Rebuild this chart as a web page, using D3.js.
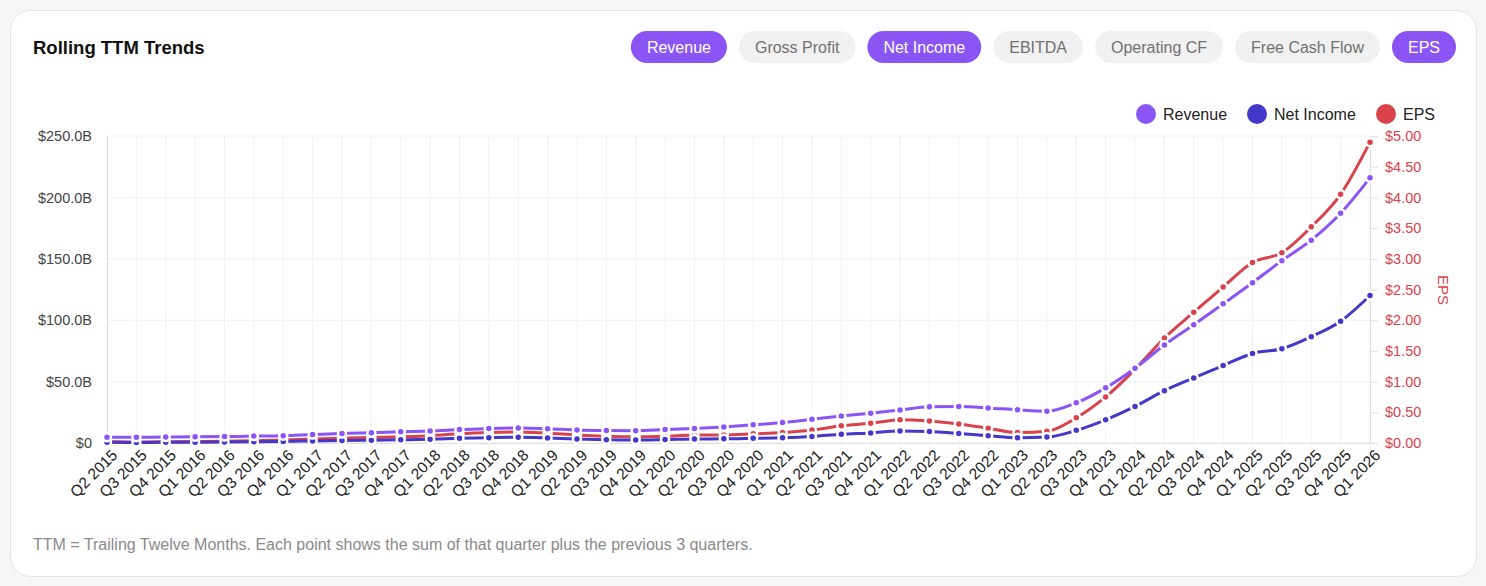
<!DOCTYPE html>
<html><head><meta charset="utf-8">
<script src="https://cdn.jsdelivr.net/npm/d3@7"></script>
<style>
html,body{margin:0;padding:0;background:#f6f6f6;}
svg{display:block;font-family:"Liberation Sans",Arial,Helvetica,sans-serif;}
</style></head>
<body><svg id="c" width="1486" height="586"></svg>
<script>
const quarters = ["Q2 2015","Q3 2015","Q4 2015","Q1 2016","Q2 2016","Q3 2016","Q4 2016","Q1 2017","Q2 2017","Q3 2017","Q4 2017","Q1 2018","Q2 2018","Q3 2018","Q4 2018","Q1 2019","Q2 2019","Q3 2019","Q4 2019","Q1 2020","Q2 2020","Q3 2020","Q4 2020","Q1 2021","Q2 2021","Q3 2021","Q4 2021","Q1 2022","Q2 2022","Q3 2022","Q4 2022","Q1 2023","Q2 2023","Q3 2023","Q4 2023","Q1 2024","Q2 2024","Q3 2024","Q4 2024","Q1 2025","Q2 2025","Q3 2025","Q4 2025","Q1 2026"];
// $B
const revenue = [4.6,4.7,4.8,5.0,5.2,5.6,6.0,6.9,7.7,8.4,9.1,9.7,10.9,11.9,12.3,11.7,10.5,10.1,10.0,10.9,11.8,13.1,14.8,16.7,19.3,21.9,24.3,26.9,29.5,29.7,28.6,27.0,25.9,32.7,44.9,60.9,79.8,96.3,113.3,130.5,148.5,165.2,187.1,215.9];
const netIncome = [0.63,0.45,0.56,0.61,0.74,0.93,1.28,1.67,1.96,2.29,2.58,3.05,3.78,4.30,4.69,4.14,3.29,2.74,2.41,2.80,3.32,3.39,3.83,4.33,5.33,7.08,8.21,9.75,9.45,7.74,5.96,4.37,4.79,10.3,18.9,29.8,42.6,53.0,63.1,72.9,76.8,86.6,99.2,120.1];
// $ per share
const eps = [0.025,0.018,0.022,0.024,0.029,0.036,0.05,0.065,0.077,0.09,0.10,0.12,0.15,0.17,0.18,0.16,0.13,0.11,0.10,0.11,0.13,0.13,0.15,0.17,0.21,0.28,0.32,0.38,0.36,0.31,0.24,0.17,0.19,0.41,0.75,1.20,1.71,2.13,2.54,2.94,3.10,3.52,4.05,4.90];
const leftTicks = [0,50,100,150,200,250];
const rightTicks = [0,0.5,1,1.5,2,2.5,3,3.5,4,4.5,5];
const buttons = ["Revenue","Gross Profit","Net Income","EBITDA","Operating CF","Free Cash Flow","EPS"];
const activeButtons = ["Revenue","Net Income","EPS"];
const legendItems = ["Revenue","Net Income","EPS"];

const colors = {"Revenue":"#8b55f6","Net Income":"#4338ca","EPS":"#d9424b"};

const svg = d3.select("#c");
// card
svg.append("rect").attr("x",10.5).attr("y",10.5).attr("width",1466).attr("height",566)
  .attr("rx",20).attr("fill","#fff").attr("stroke","#e4e4e4");
svg.append("text").attr("x",33).attr("y",54).attr("font-size",18.5).attr("font-weight","bold")
  .attr("fill","#111").text("Rolling TTM Trends");

// buttons
const btnG = svg.append("g");
const measure = svg.append("text").attr("font-size",16).attr("visibility","hidden");
const btnData = buttons.map(b=>{measure.text(b); return {b, w: measure.node().getComputedTextLength()+32};});
measure.remove();
const totalW = d3.sum(btnData,d=>d.w) + 12*(btnData.length-1);
let cx = 1456 - totalW;
btnData.forEach(d=>{
  const act = activeButtons.includes(d.b);
  btnG.append("rect").attr("x",cx).attr("y",31).attr("width",d.w).attr("height",32).attr("rx",16)
    .attr("fill",act?"#8b55f6":"#f1f1f1");
  btnG.append("text").attr("x",cx+d.w/2).attr("y",52.5).attr("text-anchor","middle").attr("font-size",16)
    .attr("fill",act?"#fff":"#707070").text(d.b);
  cx += d.w + 12;
});

// scales
const x = d3.scalePoint().domain(quarters).range([107,1370]);
const yL = d3.scaleLinear().domain([0,250]).range([443,136]);
const yR = d3.scaleLinear().domain([0,5]).range([443,136]);

// grid
const grid = svg.append("g");
grid.selectAll(".vg").data(quarters).join("line").attr("x1",d=>x(d)).attr("x2",d=>x(d))
  .attr("y1",136).attr("y2",443).attr("stroke","#f1f1f1");
grid.selectAll(".hg").data(leftTicks).join("line").attr("x1",107).attr("x2",1370)
  .attr("y1",d=>yL(d)).attr("y2",d=>yL(d)).attr("stroke","#f1f1f1");

// axes
const fmtL = d=> d===0 ? "$0" : "$"+d.toFixed(1)+"B";
const axL = svg.append("g").attr("transform","translate(107,0)")
  .call(d3.axisLeft(yL).tickValues(leftTicks).tickFormat(fmtL).tickSize(0).tickPadding(15));
axL.select(".domain").attr("stroke","#dedede");
axL.selectAll("text").attr("font-size",14.5).attr("fill","#444").attr("font-family","Liberation Sans, Arial");

const axR = svg.append("g").attr("transform","translate(1370,0)")
  .call(d3.axisRight(yR).tickValues(rightTicks).tickFormat(d=>"$"+d.toFixed(2)).tickSize(8).tickPadding(7));
axR.select(".domain").attr("stroke","#dedede");
axR.selectAll(".tick line").attr("stroke","#dedede");
axR.selectAll("text").attr("font-size",14.5).attr("fill","#d9424b").attr("font-family","Liberation Sans, Arial");

svg.append("text").attr("transform","translate(1438,290) rotate(90)").attr("text-anchor","middle")
  .attr("font-size",15).attr("fill","#d9424b").text("EPS");

const axB = svg.append("g").attr("transform","translate(0,443)")
  .call(d3.axisBottom(x).tickSize(6).tickPadding(2));
axB.select(".domain").attr("stroke","#dedede");
axB.selectAll(".tick line").attr("stroke","#f1f1f1");
axB.selectAll("text").attr("font-size",15.5).attr("fill","#222").attr("font-family","Liberation Sans, Arial")
  .attr("text-anchor","end").attr("dx","-1.5").attr("dy","9").attr("transform","rotate(-45)");

// series
const series = [
  {name:"EPS", vals:eps, y:yR},
  {name:"Net Income", vals:netIncome, y:yL},
  {name:"Revenue", vals:revenue, y:yL}
];
series.forEach(s=>{
  const line = d3.line().x((d,i)=>x(quarters[i])).y(d=>s.y(d)).curve(d3.curveMonotoneX);
  svg.append("path").datum(s.vals).attr("d",line).attr("fill","none")
    .attr("stroke",colors[s.name]).attr("stroke-width",3);
  svg.append("g").selectAll("circle").data(s.vals).join("circle")
    .attr("cx",(d,i)=>x(quarters[i])).attr("cy",d=>s.y(d)).attr("r",4)
    .attr("fill",colors[s.name]).attr("stroke","#fff").attr("stroke-width",2.5);
});

// legend
const lg = svg.append("g");
const legPos = {"Revenue":1146,"Net Income":1257,"EPS":1386};
legendItems.forEach(n=>{
  const px = legPos[n];
  lg.append("circle").attr("cx",px).attr("cy",114).attr("r",10).attr("fill",colors[n]);
  lg.append("text").attr("x",px+17).attr("y",119.5).attr("font-size",16).attr("fill","#222").text(n);
});

svg.append("text").attr("x",33).attr("y",550).attr("font-size",16).attr("fill","#8a8a8a")
  .text("TTM = Trailing Twelve Months. Each point shows the sum of that quarter plus the previous 3 quarters.");
</script></body></html>
